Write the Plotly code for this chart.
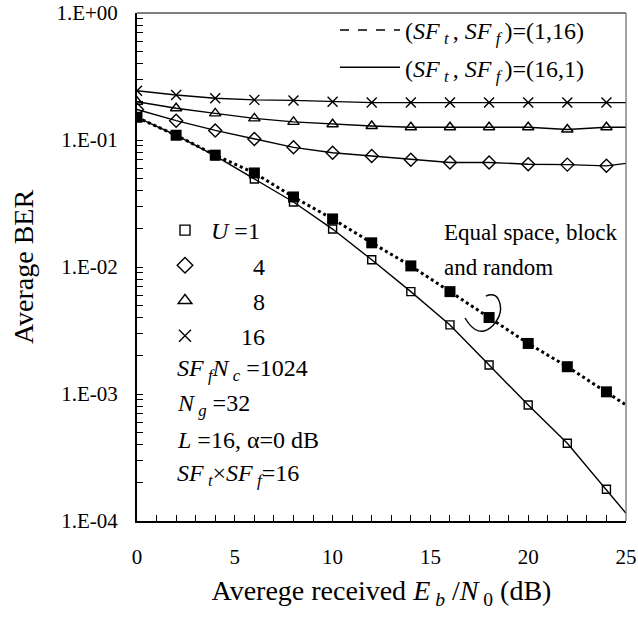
import plotly.graph_objects as go

# ---------------- data ----------------
snr_db = [0, 2, 4, 6, 8, 10, 12, 14, 16, 18, 20, 22, 24, 25]
n_marked = 13  # markers at 0..24 dB, lines continue to 25 dB

ber_u1_16_1 = [0.151, 0.109, 0.075, 0.0493, 0.0325, 0.0199, 0.0114, 0.0064,
               0.0035, 0.00169, 0.00082, 0.00041, 0.000178, 0.000115]
ber_u1_1_16 = [0.151, 0.109, 0.076, 0.055, 0.0356, 0.0239, 0.0155, 0.0102,
               0.0064, 0.0040, 0.0025, 0.00164, 0.00104, 0.00082]
ber_u4_16_1 = [0.174, 0.142, 0.119, 0.102, 0.0875, 0.0794, 0.0748, 0.0700,
               0.0665, 0.0665, 0.0645, 0.0640, 0.0626, 0.0655]
ber_u8_16_1 = [0.200, 0.178, 0.162, 0.148, 0.139, 0.133, 0.129, 0.126,
               0.126, 0.126, 0.126, 0.121, 0.126, 0.126]
ber_u16_16_1 = [0.244, 0.226, 0.213, 0.207, 0.205, 0.200, 0.197, 0.197,
                0.197, 0.197, 0.197, 0.197, 0.197, 0.197]

y_tick_values = [1, 0.1, 0.01, 0.001, 0.0001]
y_tick_labels = ["1.E+00", "1.E-01", "1.E-02", "1.E-03", "1.E-04"]
x_tick_values = [0, 5, 10, 15, 20, 25]
x_tick_labels = ["0", "5", "10", "15", "20", "25"]

FONT = "Liberation Serif, Times New Roman, serif"

fig = go.Figure()

# solid curves (SFt,SFf)=(16,1)
solid_series = [
    (ber_u1_16_1, "square-open", 8),
    (ber_u4_16_1, "diamond-open", 10),
    (ber_u8_16_1, "triangle-up-open", 10),
    (ber_u16_16_1, "x-thin-open", 10),
]
for ys, sym, sz in solid_series:
    fig.add_trace(go.Scatter(x=snr_db, y=ys, mode="lines",
                             line=dict(color="black", width=1.4),
                             showlegend=False, hoverinfo="skip"))
    fig.add_trace(go.Scatter(x=snr_db[:n_marked], y=ys[:n_marked], mode="markers",
                             marker=dict(symbol=sym, size=sz, color="black",
                                         line=dict(color="black", width=1.4)),
                             showlegend=False))

# dashed curve (SFt,SFf)=(1,16), U=1 (equal space, block and random overlap)
fig.add_trace(go.Scatter(x=snr_db, y=ber_u1_1_16, mode="lines",
                         line=dict(color="black", width=3, dash="dot"),
                         showlegend=False, hoverinfo="skip"))
fig.add_trace(go.Scatter(x=snr_db[:n_marked], y=ber_u1_1_16[:n_marked], mode="markers",
                         marker=dict(symbol="square", size=11, color="black"),
                         showlegend=False))

# ---- legend 1: line styles ----
fig.add_trace(go.Scatter(x=[None], y=[None], mode="lines",
                         line=dict(color="black", width=1.4, dash="dash"),
                         name="(<i>SF</i><sub> <i>t</i> </sub>, <i>SF</i><sub> <i>f</i> </sub>)=(1,16)",
                         legend="legend", legendgroup="a"))
fig.add_trace(go.Scatter(x=[None], y=[None], mode="lines",
                         line=dict(color="black", width=1.4),
                         name="(<i>SF</i><sub> <i>t</i> </sub>, <i>SF</i><sub> <i>f</i> </sub>)=(16,1)",
                         legend="legend", legendgroup="b"))

# ---- legend 2: user count markers ----
nb = "\u00a0"
u_labels = [nb * 1 + "<i>U</i> =1", nb * 8 + "4", nb * 8 + "8", nb * 6 + "16"]
for (ys, sym, sz), lab, grp in zip(solid_series, u_labels, ["c", "d", "e", "f"]):
    fig.add_trace(go.Scatter(x=[None], y=[None], mode="markers",
                             marker=dict(symbol=sym, size=sz + 2, color="black",
                                         line=dict(color="black", width=1.4)),
                             name=lab, legend="legend2", legendgroup=grp))

# ---- text annotations ----
param_lines = [
    "<i>SF</i><sub> <i>f</i></sub><i>N</i><sub> <i>c</i></sub> =1024",
    "<i>N</i><sub> <i>g</i></sub> =32",
    "<i>L</i> =16, α=0 dB",
    "<i>SF</i><sub> <i>t</i></sub>×<i>SF</i><sub> <i>f</i></sub>=16",
]
param_y_px = [370, 405, 440, 475]
for txt, py in zip(param_lines, param_y_px):
    fig.add_annotation(text=txt, xref="paper", yref="paper",
                       x=(175 - 137) / 489, y=(521 - py) / 508,
                       xanchor="left", yanchor="middle", showarrow=False,
                       font=dict(family=FONT, size=24, color="black"))

for txt, py in zip(["Equal space, block", "and random"], [232, 267]):
    fig.add_annotation(text=txt, xref="paper", yref="paper",
                       x=(442 - 137) / 489, y=(521 - py) / 508,
                       xanchor="left", yanchor="middle", showarrow=False,
                       font=dict(family=FONT, size=23, color="black"))

# curly bracket around the marked curves
fig.add_shape(type="path", xref="x domain", yref="y domain",
              path="M 0.6708 0.3996 Q 0.6973 0.3561 0.7280 0.3850 "
                   "Q 0.7526 0.4114 0.7382 0.4380 Q 0.7301 0.4500 0.7137 0.4429",
              line=dict(color="black", width=1.4))

# frame top/right
fig.add_shape(type="line", xref="x domain", yref="y domain", x0=0, x1=1, y0=1, y1=1,
              line=dict(color="black", width=1.2))
fig.add_shape(type="line", xref="x domain", yref="y domain", x0=1, x1=1, y0=0, y1=1,
              line=dict(color="#666666", width=1.2))

y_minor = [m * 10 ** d for d in [-4, -3, -2, -1] for m in range(2, 10)]

fig.update_layout(
    width=638, height=628,
    margin=dict(l=137, r=12, t=13, b=107, autoexpand=False),
    plot_bgcolor="white", paper_bgcolor="white",
    font=dict(family=FONT, color="black"),
    xaxis=dict(range=[0, 25], tickmode="array", tickvals=x_tick_values, ticktext=x_tick_labels,
               ticks="inside", ticklen=6, tickwidth=1.2, tickcolor="black",
               minor=dict(tickmode="linear", tick0=0, dtick=1, ticks="inside",
                          ticklen=6, tickwidth=1.2, tickcolor="black", showgrid=False),
               showline=True, linewidth=2, linecolor="black",
               showgrid=False, zeroline=False, ticklabelstandoff=16,
               ticklabeloverflow="allow",
               tickfont=dict(family=FONT, size=21, color="black"),
               title=dict(text="Averege received <i>E</i><sub> <i>b</i></sub> /<i>N</i><sub> 0</sub> (dB)" + nb * 3,
                          font=dict(family=FONT, size=28, color="black"), standoff=12)),
    yaxis=dict(type="log", range=[-4, 0], tickmode="array", tickvals=y_tick_values, ticktext=y_tick_labels,
               ticks="inside", ticklen=6, tickwidth=1.2, tickcolor="black",
               minor=dict(tickmode="array", tickvals=y_minor, ticks="inside",
                          ticklen=6, tickwidth=1.2, tickcolor="black", showgrid=False),
               showline=True, linewidth=2, linecolor="black",
               showgrid=False, zeroline=False, ticklabelstandoff=13,
               ticklabeloverflow="allow",
               tickfont=dict(family=FONT, size=21, color="black"),
               title=dict(text="Average BER", font=dict(family=FONT, size=28, color="black"),
                          standoff=15)),
    legend=dict(x=(335 - 137) / 489, y=1.01, xanchor="left", yanchor="top",
                bgcolor="rgba(0,0,0,0)", borderwidth=0, itemwidth=60,
                tracegroupgap=3, font=dict(family=FONT, size=24, color="black")),
    legend2=dict(x=(165 - 137) / 489, y=(521 - 208) / 508, xanchor="left", yanchor="top",
                 bgcolor="rgba(0,0,0,0)", borderwidth=0,
                 tracegroupgap=1, font=dict(family=FONT, size=24, color="black")),
)

fig.write_html("out.html", config={"displayModeBar": False},
               post_script="document.body.style.margin='0';")
